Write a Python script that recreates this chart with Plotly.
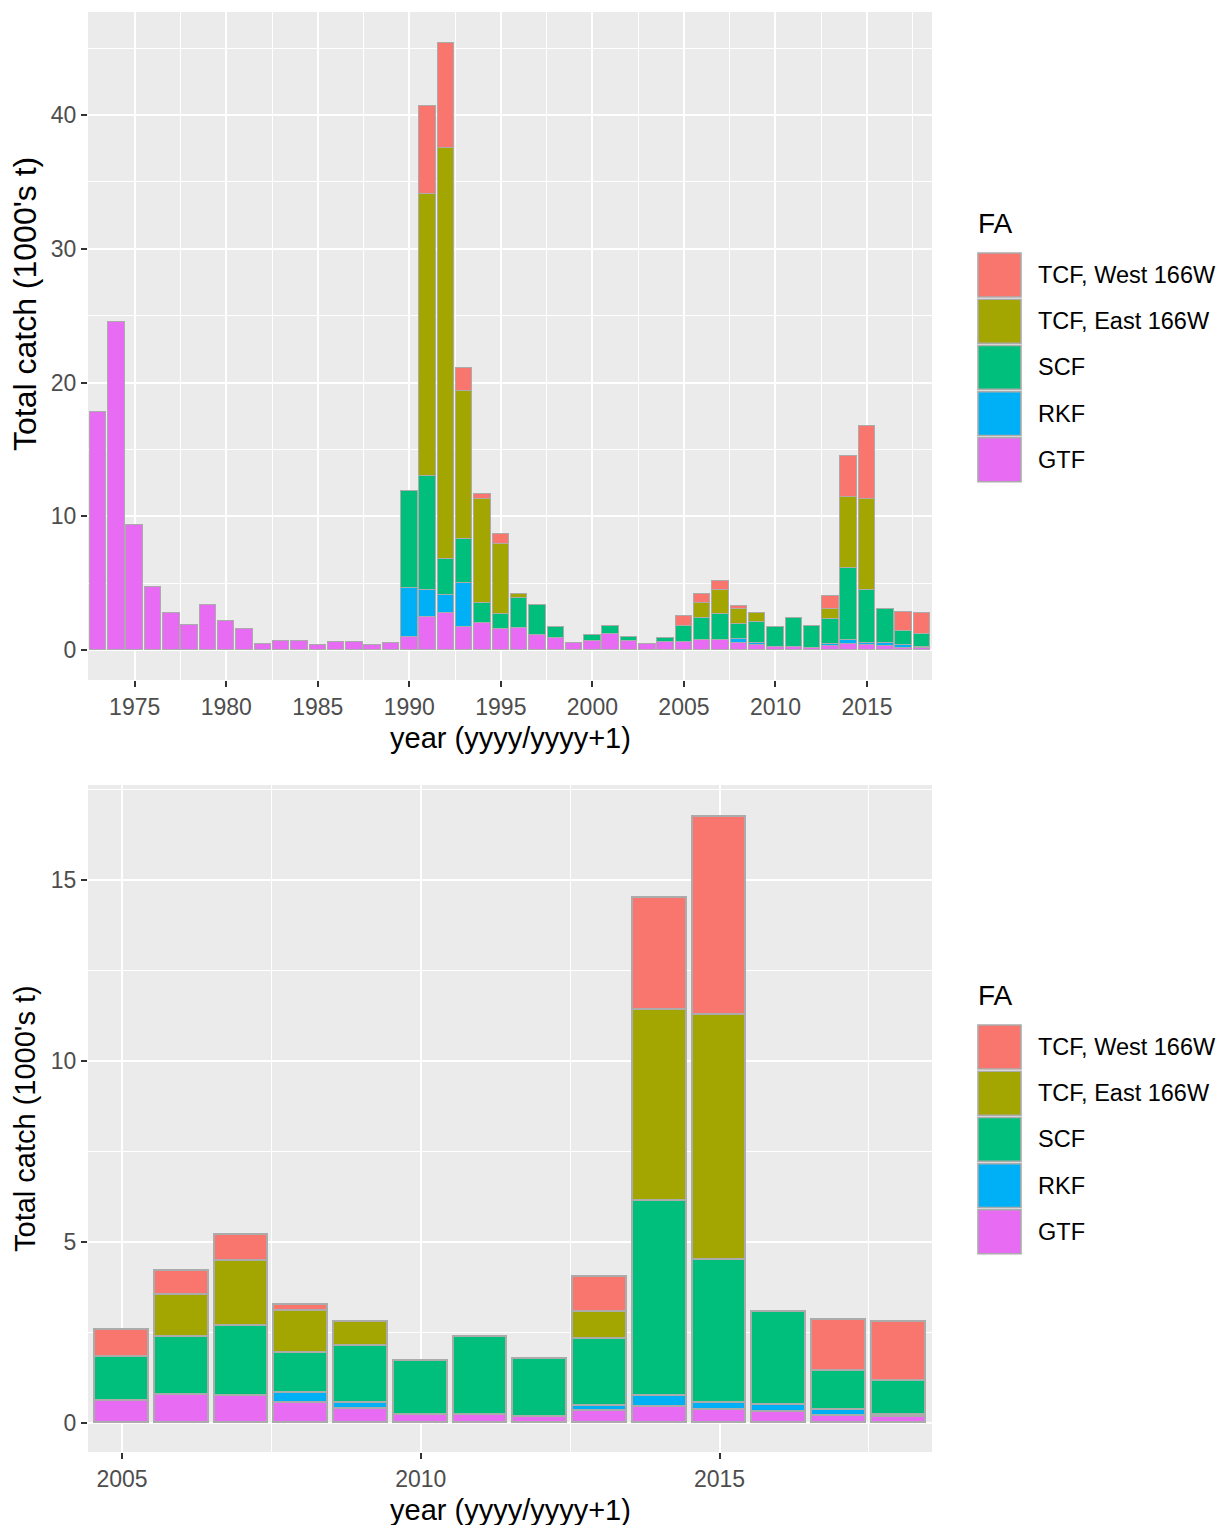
import plotly.graph_objects as go

# Catch by fishery (1000's t), season year yyyy/yyyy+1
years = list(range(1973, 2019))

gtf = [17.8, 24.5, 9.35, 4.7, 2.8, 1.9, 3.4, 2.2, 1.55, 0.42,
       0.67, 0.67, 0.35, 0.6, 0.6, 0.4, 0.55, 1.0, 2.5, 2.74,
       1.74, 2.04, 1.55, 1.62, 1.12, 0.9, 0.55, 0.7, 1.2, 0.7,
       0.45, 0.6, 0.62, 0.77, 0.75, 0.54, 0.38, 0.22, 0.22, 0.16,
       0.33, 0.45, 0.36, 0.31, 0.19, 0.17]
rkf = [None] * 17 + [3.66, 2.0, 1.36, 3.29] + [None] * 14 + \
      [0.28, 0.18, None, None, None, 0.15, 0.3, 0.2, 0.19, 0.17, 0.05]
scf = [None] * 17 + [7.2, 8.5, 2.68, 3.27, 1.5, 1.14, 2.25, 2.24, 0.85,
       None, 0.4, 0.6, 0.3, None, 0.3, 1.21, 1.6, 1.93, 1.12, 1.57,
       1.5, 2.16, 1.61, 1.84, 5.38, 3.94, 2.57, 1.08, 0.95]
tcf_east = [None] * 18 + [21.07, 30.72, 11.06, 7.73, 5.21, 0.3] + [None] * 9 + \
           [1.17, 1.8, 1.16, 0.67, None, None, None, 0.75, 5.28, 6.77, None, None, None]
tcf_west = [None] * 18 + [6.63, 7.9, 1.74, 0.43, 0.75] + [None] * 9 + \
           [0.74, 0.67, 0.71, 0.16, None, None, None, None, 0.97, 3.09, 5.47, None, 1.41, 1.63]

series = [
    ("GTF", gtf, "#E76BF3"),
    ("RKF", rkf, "#00B0F6"),
    ("SCF", scf, "#00BF7D"),
    ("TCF, East 166W", tcf_east, "#A3A500"),
    ("TCF, West 166W", tcf_west, "#F8766D"),
]
legend_order = ["TCF, West 166W", "TCF, East 166W", "SCF", "RKF", "GTF"]
colors = {name: col for name, _, col in series}

zoom_start = 2005

W, H = 1220, 1525
FONT = "Liberation Sans, Arial, Helvetica, sans-serif"
PANEL = "#EBEBEB"
OUTLINE = "#ABABAB"

fig = go.Figure()

for name, vals, col in series:
    fig.add_trace(go.Bar(
        x=years, y=vals, name=name, width=0.9,
        marker=dict(color=col, line=dict(color=OUTLINE, width=1.2)),
        xaxis="x", yaxis="y", showlegend=False,
    ))
for name, vals, col in series:
    sub_x = [yr for yr in years if yr >= zoom_start]
    sub_y = [v for yr, v in zip(years, vals) if yr >= zoom_start]
    fig.add_trace(go.Bar(
        x=sub_x, y=sub_y, name=name, width=0.9,
        marker=dict(color=col, line=dict(color=OUTLINE, width=1.6)),
        xaxis="x2", yaxis="y2", showlegend=False,
    ))


def px_x(p):
    return p / W


def px_y(p):
    return 1 - p / H


tick_font = dict(family=FONT, size=23, color="#4D4D4D")

common_axis = dict(
    showgrid=True, gridcolor="white", gridwidth=2.4,
    zeroline=False, showline=False,
    ticks="outside", ticklen=6, tickwidth=1.6, tickcolor="#333333",
    tickfont=tick_font,
)

fig.update_layout(
    width=W, height=H,
    margin=dict(l=0, r=0, t=0, b=0),
    paper_bgcolor="white", plot_bgcolor=PANEL,
    barmode="stack", bargap=0,
    font=dict(family=FONT),
    xaxis=dict(domain=[px_x(88), px_x(932)], anchor="y",
               range=[1972.45, 2018.55], tickmode="linear", tick0=1975, dtick=5,
               minor=dict(showgrid=True, gridcolor="white", gridwidth=1.1,
                          tick0=1977.5, dtick=5, ticks=""),
               **common_axis),
    yaxis=dict(domain=[px_y(680), px_y(12)], anchor="x",
               range=[-2.24, 47.7], tickmode="linear", tick0=0, dtick=10,
               minor=dict(showgrid=True, gridcolor="white", gridwidth=1.1,
                          tick0=5, dtick=10, ticks=""),
               **common_axis),
    xaxis2=dict(domain=[px_x(88), px_x(932)], anchor="y2",
                range=[2004.43, 2018.556], tickmode="linear", tick0=2005, dtick=5,
                minor=dict(showgrid=True, gridcolor="white", gridwidth=1.1,
                           tick0=2007.5, dtick=5, ticks=""),
                **common_axis),
    yaxis2=dict(domain=[px_y(1452), px_y(785)], anchor="x2",
                range=[-0.80, 17.62], tickmode="linear", tick0=0, dtick=5,
                minor=dict(showgrid=True, gridcolor="white", gridwidth=1.1,
                           tick0=2.5, dtick=5, ticks=""),
                **common_axis),
)

annotations = []
shapes = []

# axis titles and legends for both panels
for offset, ytitle_center, ytitle_size in ((0, 304, 32), (772, 1119, 29)):
    annotations.append(dict(
        text="year (yyyy/yyyy+1)", xref="paper", yref="paper",
        x=px_x(510), y=px_y(738 + offset), xanchor="center", yanchor="middle",
        showarrow=False, font=dict(family=FONT, size=29, color="black")))
    annotations.append(dict(
        text="Total catch (1000's t)", xref="paper", yref="paper",
        x=px_x(25), y=px_y(ytitle_center), xanchor="center", yanchor="middle",
        textangle=-90, showarrow=False,
        font=dict(family=FONT, size=ytitle_size, color="black")))
    annotations.append(dict(
        text="FA", xref="paper", yref="paper",
        x=px_x(976), y=px_y(224 + offset), xanchor="left", yanchor="middle",
        showarrow=False, font=dict(family=FONT, size=28, color="black")))
    for i, name in enumerate(legend_order):
        top = 253 + offset + i * 46.2
        shapes.append(dict(
            type="rect", xref="paper", yref="paper",
            x0=px_x(978), x1=px_x(1021), y0=px_y(top + 44), y1=px_y(top),
            fillcolor=colors[name], line=dict(color=OUTLINE, width=1.6)))
        annotations.append(dict(
            text=name, xref="paper", yref="paper",
            x=px_x(1036), y=px_y(top + 22), xanchor="left", yanchor="middle",
            showarrow=False, font=dict(family=FONT, size=23.5, color="black")))

fig.update_layout(annotations=annotations, shapes=shapes)

fig.write_html("out.html")
